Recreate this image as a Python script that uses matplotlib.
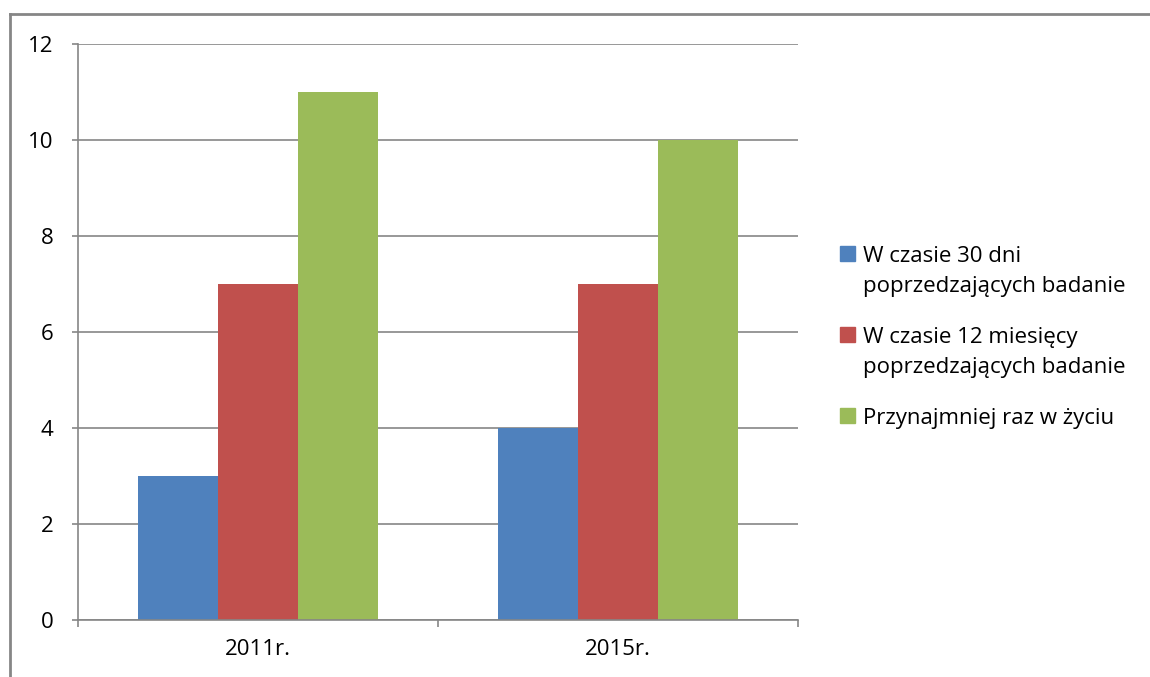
import numpy as np
import matplotlib
matplotlib.use("Agg")
import matplotlib.pyplot as plt
from matplotlib.patches import Rectangle
from matplotlib.lines import Line2D

# dane
categories = ['2011r.', '2015r.']
series_names = ['W czasie 30 dni\npoprzedzających badanie',
                'W czasie 12 miesięcy\npoprzedzających badanie',
                'Przynajmniej raz w życiu']
values_30d = [3, 4]
values_12m = [7, 7]
values_life = [11, 10]
colors = ['#4F81BD', '#C0504D', '#9BBB59']

plt.rcParams['font.family'] = ['Open Sans', 'DejaVu Sans']
grey = '#868686'
fs = 16
W, H = 1150, 677

fig = plt.figure(figsize=(W / 100, H / 100), dpi=100)
ax = fig.add_axes([78 / W, 1 - 620 / H, 720 / W, 576 / H])

x = np.arange(len(categories))
w = 2 / 9  # szerokosc przerwy 50%
for i, vals in enumerate([values_30d, values_12m, values_life]):
    ax.bar(x + (i - 1) * w, vals, width=w, color=colors[i], zorder=2)

ax.set_xlim(-0.5, len(categories) - 0.5)
ax.set_ylim(0, 12)
ax.set_yticks(range(0, 13, 2))
ax.yaxis.grid(True, color=grey, linewidth=1.2, zorder=0)
ax.set_xticks(x)
ax.set_xticklabels(categories, fontsize=fs)
ax.set_xticks(np.arange(len(categories) + 1) - 0.5, minor=True)
ax.tick_params(axis='x', which='major', length=0, pad=14)
ax.tick_params(axis='x', which='minor', length=5, color=grey, width=1.2)
ax.tick_params(axis='y', length=4.5, color=grey, width=1.2, labelsize=fs, pad=13)
for s in ['top', 'right']:
    ax.spines[s].set_visible(False)
for s in ['left', 'bottom']:
    ax.spines[s].set_color(grey)
    ax.spines[s].set_linewidth(1.2)

# legenda - reczne rozmieszczenie linii
base = 262
for i, name in enumerate(series_names):
    fig.patches.append(Rectangle((840 / W, 1 - (base - 1) / H), 15 / W, 15 / H,
                                 transform=fig.transFigure, color=colors[i]))
    for j, line in enumerate(name.split('\n')):
        fig.text(863 / W, 1 - (base + 30 * j) / H, line, fontsize=fs,
                 va='baseline', ha='left', transform=fig.transFigure)
    base += 30 * name.count('\n') + 51

# ramka
fig.lines.append(Line2D([10 / W, 10 / W], [0, 1 - 14 / H], transform=fig.transFigure,
                        color=grey, linewidth=2))
fig.lines.append(Line2D([10 / W, 1], [1 - 14 / H, 1 - 14 / H], transform=fig.transFigure,
                        color=grey, linewidth=2))

fig.savefig('out.png', dpi=100)
